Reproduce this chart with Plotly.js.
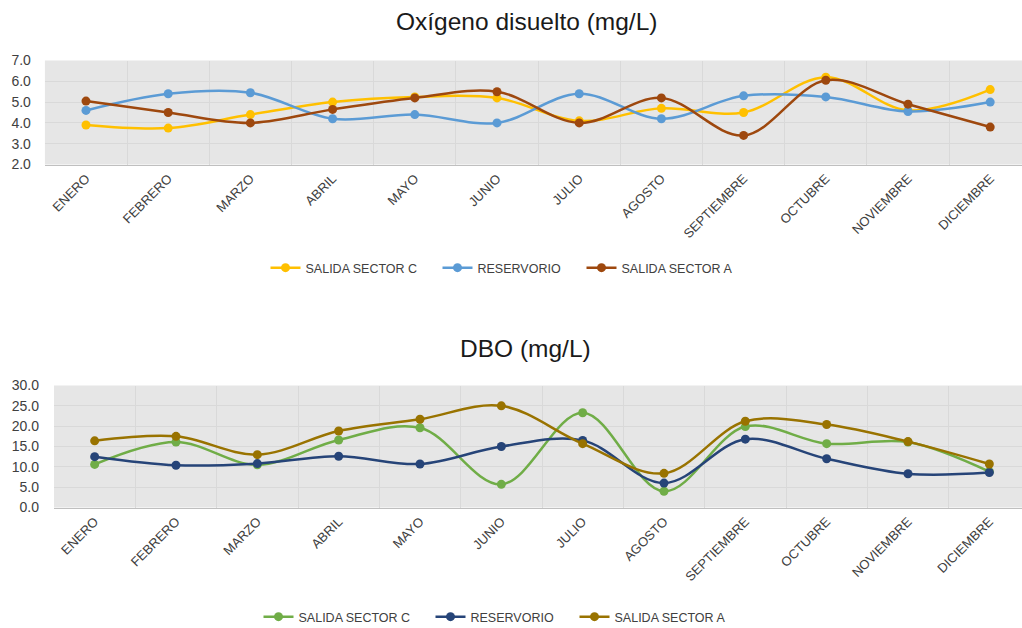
<!DOCTYPE html>
<html>
<head>
<meta charset="utf-8">
<script src="https://cdn.plot.ly/plotly-3.0.1.min.js"></script>
<style>
  html, body { margin: 0; padding: 0; background: #ffffff; }
  #chart { width: 1022px; height: 628px; }
</style>
</head>
<body>
<div id="chart"></div>
<script>
// ---- Data ----
const months = ["ENERO", "FEBRERO", "MARZO", "ABRIL", "MAYO", "JUNIO", "JULIO", "AGOSTO", "SEPTIEMBRE", "OCTUBRE", "NOVIEMBRE", "DICIEMBRE"];

const titleOD = "Oxígeno disuelto (mg/L)";
const titleDBO = "DBO (mg/L)";
const seriesNames = ["SALIDA SECTOR C", "RESERVORIO", "SALIDA SECTOR A"];

// Oxígeno disuelto (mg/L)
const odSectorC    = [3.9, 3.75, 4.4, 5.0, 5.25, 5.2, 4.1, 4.7, 4.5, 6.2, 4.6, 5.6];
const odReservorio = [4.6, 5.4, 5.45, 4.2, 4.4, 4.0, 5.4, 4.2, 5.3, 5.25, 4.55, 5.0];
const odSectorA    = [5.05, 4.5, 4.0, 4.65, 5.2, 5.5, 4.0, 5.2, 3.4, 6.05, 4.9, 3.8];

// DBO (mg/L)
const dboSectorC    = [10.6, 16.1, 10.5, 16.6, 19.6, 5.7, 23.3, 4.0, 19.9, 15.7, 16.1, 8.8];
const dboReservorio = [12.5, 10.4, 10.8, 12.6, 10.7, 15.0, 16.5, 6.0, 16.8, 12.0, 8.3, 8.6];
const dboSectorA    = [16.4, 17.5, 13.0, 18.8, 21.7, 25.0, 15.7, 8.4, 21.2, 20.4, 16.2, 10.7];

// ---- Styles ----
const odColors  = ["#FFC000", "#5B9BD5", "#9E480E"];
const dboColors = ["#70AD47", "#264478", "#997300"];
const legendWidths = [127, 99, 110];
const FONT = "Liberation Sans, Arial, sans-serif";
const TXT = "#404040";

function mk(y, i, colors, xa, ya, leg) {
  return {
    type: "scatter", mode: "lines+markers",
    x: months, y: y, name: seriesNames[i],
    xaxis: xa, yaxis: ya, legend: leg,
    legendwidth: legendWidths[i],
    line: { color: colors[i], width: 2.5, shape: "spline", smoothing: 1 },
    marker: { color: colors[i], size: 9 },
    cliponaxis: false
  };
}

const traces = [
  mk(odSectorC,    0, odColors, "x",  "y",  "legend"),
  mk(odReservorio, 1, odColors, "x",  "y",  "legend"),
  mk(odSectorA,    2, odColors, "x",  "y",  "legend"),
  mk(dboSectorC,    0, dboColors, "x2", "y2", "legend2"),
  mk(dboReservorio, 1, dboColors, "x2", "y2", "legend2"),
  mk(dboSectorA,    2, dboColors, "x2", "y2", "legend2")
];

const W = 1022, H = 628;
function xaxisDef(left, firstCenter, band) {
  const end = (W - firstCenter) / band;
  return {
    type: "category",
    domain: [left / W, 1],
    range: [-0.5, end],
    tickson: "boundaries",
    showgrid: true, gridcolor: "#d9d9d9", gridwidth: 1,
    showline: true, linecolor: "#bfbfbf", linewidth: 1.5,
    ticks: "", tickangle: -45,
    tickfont: { family: FONT, size: 13, color: TXT },
    fixedrange: true
  };
}
function yaxisDef(top, bottom, range, dtick, standoff) {
  return {
    domain: [(H - bottom) / H, (H - top) / H],
    range: range, dtick: dtick, tickformat: ".1f",
    showgrid: true, gridcolor: "#d9d9d9", gridwidth: 1,
    zeroline: false, showline: false, ticks: "",
    ticklabelstandoff: standoff,
    tickfont: { family: FONT, size: 14, color: TXT },
    fixedrange: true
  };
}

const layout = {
  width: W, height: H,
  margin: { l: 0, r: 0, t: 0, b: 0, autoexpand: false },
  paper_bgcolor: "#ffffff",
  plot_bgcolor: "#e6e6e6",
  font: { family: FONT, color: TXT },
  showlegend: true,
  xaxis: Object.assign(xaxisDef(44.9, 86, 82.2), { anchor: "y" }),
  yaxis: Object.assign(yaxisDef(60.5, 164.5, [2, 7], 1, 13), { anchor: "x" }),
  xaxis2: Object.assign(xaxisDef(54, 94.7, 81.33), { anchor: "y2" }),
  yaxis2: Object.assign(yaxisDef(385.5, 507.5, [0, 30], 5, 14), { anchor: "x2" }),
  legend: {
    orientation: "h", x: 265.5 / W, xanchor: "left", y: (H - 268) / H, yanchor: "middle",
    font: { family: FONT, size: 12.5, color: TXT }, bgcolor: "rgba(0,0,0,0)"
  },
  legend2: {
    orientation: "h", x: 258.5 / W, xanchor: "left", y: (H - 617) / H, yanchor: "middle",
    font: { family: FONT, size: 12.5, color: TXT }, bgcolor: "rgba(0,0,0,0)"
  },
  annotations: [
    { text: titleOD, xref: "paper", yref: "paper", x: 526 / W, y: (H - 22) / H,
      xanchor: "center", yanchor: "middle", showarrow: false,
      font: { family: FONT, size: 24.5, color: "#1a1a1a" } },
    { text: titleDBO, xref: "paper", yref: "paper", x: 525 / W, y: (H - 348) / H,
      xanchor: "center", yanchor: "middle", showarrow: false,
      font: { family: FONT, size: 24.5, color: "#1a1a1a" } }
  ]
};

Plotly.newPlot("chart", traces, layout, { displayModeBar: false, staticPlot: true });
</script>
</body>
</html>
